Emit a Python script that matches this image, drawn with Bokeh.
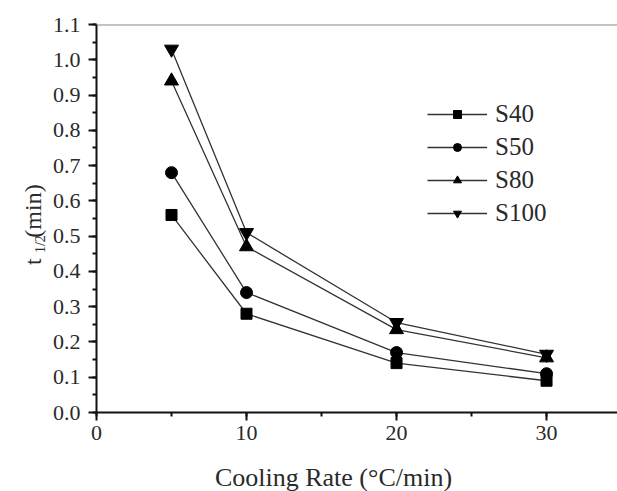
import math
from bokeh.plotting import figure
from bokeh.layouts import row, column
from bokeh.models import (Range1d, SingleIntervalTicker, PrintfTickFormatter, Span,
                          Legend, LegendItem)
from bokeh.core.properties import value
from bokeh.embed import file_html
from bokeh.resources import INLINE

cooling_rate = [5, 10, 20, 30]
s40 = [0.56, 0.28, 0.14, 0.09]
s50 = [0.68, 0.34, 0.17, 0.11]
s80 = [0.94, 0.47, 0.235, 0.155]
s100 = [1.03, 0.51, 0.255, 0.165]
series_names = ["S40", "S50", "S80", "S100"]
series_values = [s40, s50, s80, s100]
markers = ["square", "circle", "triangle", "inverted_triangle"]
marker_sizes = [11, 12, 14, 14]
x_label = "Cooling Rate (°C/min)"

FONT = "Liberation Serif"
TXT = "#2a2a2a"
W = 617
H = 491
LW = 48          # width of the y-label strip
BH = 36          # height of the x-label strip
PH = H - BH      # height of the main row

# ---- main plot ----
p = figure(width=W - LW, height=PH, output_backend="svg", toolbar_location=None,
           x_range=Range1d(0, 34.73), y_range=Range1d(0, 1.1))
p.min_border_left = 96 - LW
p.min_border_right = 0
p.min_border_top = 24
p.min_border_bottom = PH - 412
p.outline_line_color = None
p.grid.visible = False

p.xaxis.ticker = SingleIntervalTicker(interval=10, num_minor_ticks=2)
p.yaxis.ticker = SingleIntervalTicker(interval=0.1, num_minor_ticks=2)
p.yaxis.formatter = PrintfTickFormatter(format="%.1f")
for ax in (p.xaxis, p.yaxis):
    ax.axis_line_width = 2
    ax.axis_line_color = "#111"
    ax.major_tick_line_width = 2
    ax.minor_tick_line_width = 2
    ax.major_tick_line_color = "#111"
    ax.minor_tick_line_color = "#111"
    ax.major_tick_out = 8
    ax.major_tick_in = 0
    ax.minor_tick_out = 4
    ax.minor_tick_in = 0
    ax.major_label_text_font = FONT
    ax.major_label_text_font_size = "22px"
    ax.major_label_text_color = TXT
p.yaxis.major_label_standoff = 8
p.xaxis.major_label_standoff = 5

p.add_layout(Span(location=1.1, dimension="width", line_color="#888", line_width=2))

items = []
for name, vals, mk, ms in zip(series_names, series_values, markers, marker_sizes):
    r1 = p.line(cooling_rate, vals, line_color="#333", line_width=1.3)
    r2 = p.scatter(cooling_rate, vals, marker=mk, size=ms, fill_color="black", line_color="black")
    items.append(LegendItem(label=name, renderers=[r1, r2]))

legend = Legend(items=items, location=(331, 185))
legend.border_line_color = None
legend.background_fill_alpha = 0
legend.padding = 0
legend.margin = 0
legend.glyph_width = 60
legend.glyph_height = 20
legend.label_height = 20
legend.spacing = 5
legend.label_standoff = 8
legend.label_text_font = FONT
legend.label_text_font_size = "25px"
legend.label_text_color = TXT
p.add_layout(legend, "center")

# ---- y label strip: t_{1/2}(min) ----
q = figure(width=LW, height=PH, output_backend="svg", toolbar_location=None,
           x_range=Range1d(0, LW), y_range=Range1d(0, PH),
           x_axis_location=None, y_axis_location=None)
q.min_border_left = q.min_border_right = q.min_border_top = q.min_border_bottom = 0
q.outline_line_color = None
q.grid.visible = False

common = dict(angle=math.pi / 2, text_font=value(FONT), text_color=TXT,
              text_align="left", text_baseline="alphabetic")
q.text(x=[32], y=[PH - 282], text=["t"], text_font_size="24px", **common)
q.text(x=[40], y=[PH - 268], text=["1/2"], text_font_size="14px", **common)
q.text(x=[32], y=[PH - 250], text=["(min)"], text_font_size="24px", **common)

# ---- x label strip ----
b = figure(width=W, height=BH, output_backend="svg", toolbar_location=None,
           x_range=Range1d(0, W), y_range=Range1d(0, BH),
           x_axis_location=None, y_axis_location=None)
b.min_border_left = b.min_border_right = b.min_border_top = b.min_border_bottom = 0
b.outline_line_color = None
b.grid.visible = False
b.text(x=[333], y=[14], text=[x_label], text_font=value(FONT), text_font_size="26px",
       text_color=TXT, text_align="center", text_baseline="alphabetic")

layout = column(row(q, p, spacing=0), b, spacing=0)
open("out.html", "w").write(file_html(layout, INLINE))
